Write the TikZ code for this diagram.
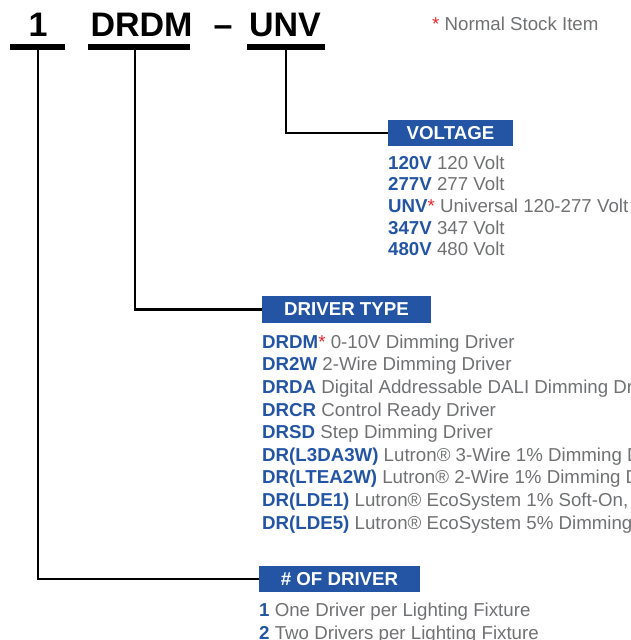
\documentclass[tikz,border=0pt]{standalone}
\usepackage{fontspec}
\setmainfont{Liberation Sans}
\definecolor{hblue}{HTML}{2455A4}
\definecolor{hgray}{HTML}{707173}
\definecolor{hred}{HTML}{E8262C}
\newcommand{\code}[1]{\textcolor{hblue}{\bfseries #1}}
\newcommand{\stk}{\textcolor{hred}{*}}
\tikzset{
 item/.style={anchor=base west, inner sep=0pt, font=\fontsize{18.7}{22}\selectfont, text=hgray},
 hdr/.style={fill=hblue, text=white, font=\fontsize{18.7}{22}\selectfont\bfseries, inner sep=0pt, minimum height=26pt},
 ttl/.style={anchor=base, inner sep=0pt, font=\fontsize{34}{40}\selectfont\bfseries},
 uline/.style={line width=6pt},
 conn/.style={line width=2.5pt},
}
\begin{document}
\begin{tikzpicture}[x=1pt,y=-1pt]
\useasboundingbox (0,0) rectangle (630,640);
\clip (0,0) rectangle (630,640);
% title
\node[ttl] (t1) at (38,36) {1};
\node[ttl] (tD) at (141.5,36) {DRDM};
\node[ttl] (tdash) at (223,36) {--};
\node[ttl] (tU) at (285,36) {UNV};
\coordinate (u1) at (38,46.7);
\coordinate (u2) at (135,46.7);
\coordinate (u3) at (286,46.7);
\draw[uline] (10,46.7) -- (65,46.7);
\draw[uline] (88,46.7) -- (190,46.7);
\draw[uline] (247,46.7) -- (325,46.7);
% note
\node[item] (note) at (432,30.5) {\stk\ Normal Stock Item};
% headers
\node[hdr, minimum width=125pt] (bvolt) at (450.5,133) {VOLTAGE};
\node[hdr, minimum width=169pt, minimum height=27pt] (bdrv) at (346.5,309.5) {DRIVER TYPE};
\node[hdr, minimum width=161pt] (bnum) at (339.5,579) {\# OF DRIVER};
% connectors
\draw[conn] (u3) |- (bvolt.west);
\draw[conn] (u2) |- (bdrv.west);
\draw[conn] (u1) |- (bnum.west);
% voltage
\node[item] (v1) at (388,169.3) {\code{120V} 120 Volt};
\node[item] (v2) at (388,190.9) {\code{277V} 277 Volt};
\node[item] (v3) at (388,212.5) {\code{UNV}\stk\ Universal 120-277 Volt};
\node[item] (v4) at (388,234.1) {\code{347V} 347 Volt};
\node[item] (v5) at (388,255.7) {\code{480V} 480 Volt};
% driver type
\node[item] (d1) at (262,348.3) {\code{DRDM}\stk\ 0-10V Dimming Driver};
\node[item] (d2) at (262,370.9) {\code{DR2W} 2-Wire Dimming Driver};
\node[item] (d3) at (262,393.5) {\code{DRDA} Digital Addressable DALI Dimming Driver};
\node[item] (d4) at (262,416.1) {\code{DRCR} Control Ready Driver};
\node[item] (d5) at (262,438.7) {\code{DRSD} Step Dimming Driver};
\node[item] (d6) at (262,461.3) {\code{DR(L3DA3W)} Lutron® 3-Wire 1\% Dimming Driver};
\node[item] (d7) at (262,483.9) {\code{DR(LTEA2W)} Lutron® 2-Wire 1\% Dimming Driver};
\node[item] (d8) at (262,506.5) {\code{DR(LDE1)} Lutron® EcoSystem 1\% Soft-On, Fade-to-Black};
\node[item] (d9) at (262,529.1) {\code{DR(LDE5)} Lutron® EcoSystem 5\% Dimming Driver};
% number
\node[item] (n1) at (259,616.7) {\code{1} One Driver per Lighting Fixture};
\node[item] (n2) at (259,639.5) {\code{2} Two Drivers per Lighting Fixture};
\end{tikzpicture}
\end{document}
